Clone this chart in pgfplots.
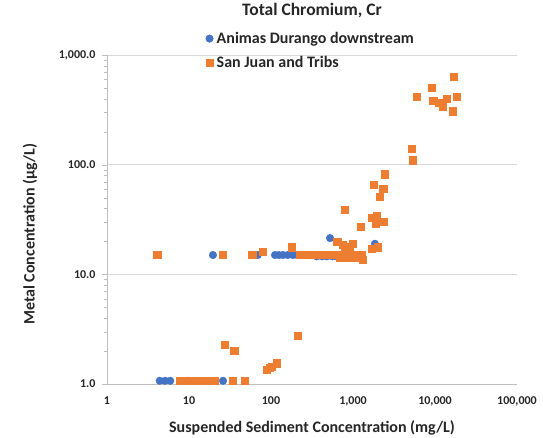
\documentclass[border=0pt]{standalone}
\usepackage{pgfplots}
\pgfplotsset{compat=1.18}
\usepackage{fontspec}
\setmainfont{Carlito}
\definecolor{exblue}{HTML}{4472C4}
\definecolor{exorange}{HTML}{ED7D31}
\definecolor{gridgray}{HTML}{D9D9D9}
\definecolor{axgray}{HTML}{BFBFBF}
\definecolor{txt}{HTML}{262626}
\begin{document}
\begin{tikzpicture}
\useasboundingbox (-107pt,-53pt) rectangle (436pt,384pt);
\begin{axis}[
  scale only axis,
  width=410pt, height=329pt,
  xmode=log, ymode=log,
  xmin=1, xmax=100000, ymin=1, ymax=1000,
  axis lines*=left,
  axis line style={draw=axgray, line width=0.8pt, -},
  xtick={1,10,100,1000,10000,100000},
  xticklabels={1,10,100,{1,000},{10,000},{100,000}},
  ytick={1,10,100,1000},
  yticklabels={{1.0},{10.0},{100.0},{1,000.0}},
  xminorticks=false,
  major x tick style={draw=none},
  yminorticks=true,
  tick align=outside,
  major tick length=5pt, minor tick length=3pt,
  tick style={draw=axgray},
  ymajorgrids, yminorgrids=false,
  major grid style={draw=gridgray, line width=0.8pt},
  ticklabel style={font=\fontsize{12}{14}\selectfont\bfseries, text=txt},
  xticklabel style={yshift=-4pt},
  yticklabel style={xshift=-3pt},
  title={Total Chromium, Cr},
  title style={at={([yshift=38pt]axis description cs:0.5,1)}, anchor=center, font=\fontsize{17.5}{19}\selectfont\bfseries, text=txt},
  xlabel={Suspended Sediment Concentration (mg/L)},
  ylabel={Metal Concentration (µg/L)},
  every axis x label/.style={at={([yshift=-44pt]axis description cs:0.5,0)}, anchor=center, font=\fontsize{16}{18}\selectfont\bfseries, text=txt},
  every axis y label/.style={at={([xshift=-77pt]axis description cs:0,0.455)}, rotate=90, anchor=center, font=\fontsize{16}{18}\selectfont\bfseries, text=txt},
  legend style={at={(0.233,1.082)}, anchor=north west, draw=none, fill=none,
    font=\fontsize{16}{18}\selectfont\bfseries, text=txt, row sep=7pt},
  legend cell align=left,
  legend image code/.code={\draw[#1] plot coordinates {(0pt,0pt)}; \path (5pt,0pt);},
  clip=false,
]
\addplot[only marks, mark=*, mark size=3.8pt, color=exblue, mark options={draw=exblue, fill=exblue}] coordinates {
(4.4,1.07)(5.1,1.07)(5.9,1.07)(9.5,1.07)(26,1.07)
(19.6,15)(69,15)(112,15)(125,15)(140,15)(160,15)(185,15)(208,15)
(360,14.6)(420,14.6)(480,14.6)(560,14.6)(630,14.6)(690,14.6)
(525,21.4)(1850,19)
};
\addlegendentry{Animas Durango downstream}
\addplot[only marks, mark=square*, mark size=3.6pt, color=exorange, mark options={draw=exorange, fill=exorange}] coordinates {
(7.8,1.07)(8.5,1.07)(9.2,1.07)(10,1.07)(10.8,1.07)(11.7,1.07)(12.6,1.07)(13.6,1.07)(14.7,1.07)(16,1.07)(17.3,1.07)(18.8,1.07)(20.5,1.07)(34,1.07)(48,1.07)
(27.5,2.3)(35.5,2.0)(89,1.34)(97,1.4)(103,1.43)(118,1.55)(214,2.74)
(4.1,15)(26,15)(59,15)(80,16)(180,17.7)
(225,15)(245,15)(270,15)(295,15)(320,15)(350,15)(385,15)(420,15)(460,15)(500,15)(545,15)(600,15)(650,15)(710,15)(780,15)(850,15)(930,15)(1010,15)(1100,15)(1200,15)(1290,15)
(700,14.3)(850,14.3)(1000,14.3)(1150,14.2)(1250,14.2)
(640,19.7)(750,18.5)(1000,19)(800,17.7)(920,17.3)(1320,13.5)(1700,17)(2000,17.7)
(1230,27)(1700,33)(1950,34)(2330,30)(1900,29)(800,39)(2100,51)(2330,60)(1800,66)(2450,82)
(5250,139)(5400,110)
(6000,420)(9200,500)(9500,380)(11000,365)(12500,340)(14000,400)(16600,307)(17000,630)(18500,420)
};
\addlegendentry{San Juan and Tribs}
\end{axis}
\end{tikzpicture}
\end{document}
